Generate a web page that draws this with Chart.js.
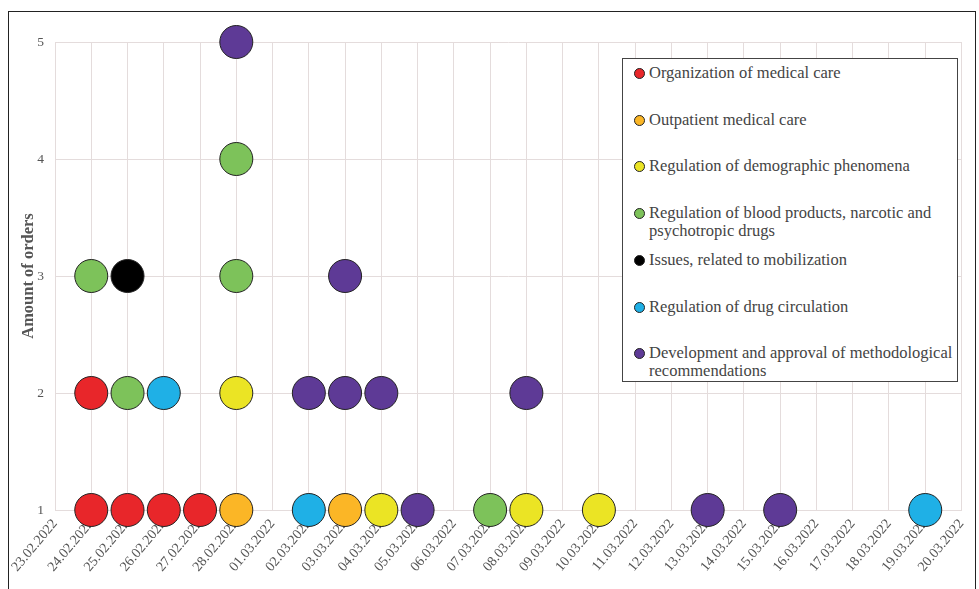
<!DOCTYPE html>
<html>
<head>
<meta charset="utf-8">
<script src="https://cdn.jsdelivr.net/npm/chart.js@4.4.1/dist/chart.umd.min.js"></script>
<style>
html,body{margin:0;padding:0;background:#fff}
#wrap{position:relative;width:979px;height:589px;overflow:hidden;font-family:"Liberation Serif",serif}
#frame{position:absolute;left:8px;top:11px;width:968px;height:640px;box-sizing:border-box;border:1.5px solid #222;border-bottom:none}
#cv{position:absolute;left:0;top:0}
#legend{position:absolute;left:622px;top:58px;width:336px;height:324px;box-sizing:border-box;border:1px solid #444;background:#fff}
.item{position:absolute;left:10px;right:0;font-size:16.5px;line-height:18px;color:#444;padding-left:16px}
.dot{position:absolute;left:1px;top:4px;width:9px;height:9px;border-radius:50%;border:1px solid #222}
</style>
</head>
<body>
<div id="wrap">
  <div id="frame"></div>
  <canvas id="cv" width="979" height="589"></canvas>
  <div id="legend"></div>
</div>
<script>
const dateLabels = ['23.02.2022','24.02.2022','25.02.2022','26.02.2022','27.02.2022','28.02.2022','01.03.2022',
  '02.03.2022','03.03.2022','04.03.2022','05.03.2022','06.03.2022','07.03.2022','08.03.2022','09.03.2022',
  '10.03.2022','11.03.2022','12.03.2022','13.03.2022','14.03.2022','15.03.2022','16.03.2022','17.03.2022',
  '18.03.2022','19.03.2022','20.03.2022']

const seriesNames = ['Organization of medical care','Outpatient medical care','Regulation of demographic phenomena',
  'Regulation of blood products, narcotic and psychotropic drugs','Issues, related to mobilization',
  'Regulation of drug circulation','Development and approval of methodological recommendations']
const seriesColors = ['#e8262a','#fbb626','#ebe424','#7dc25a','#000000','#1fb0e6','#5e3a96']

// dates and stacked order numbers per category
const orgDates = ['24.02.2022','24.02.2022','25.02.2022','26.02.2022','27.02.2022']
const orgY = [1,2,1,1,1]
const outDates = ['28.02.2022','03.03.2022']
const outY = [1,1]
const demoDates = ['28.02.2022','04.03.2022','08.03.2022','10.03.2022']
const demoY = [2,1,1,1]
const bloodDates = ['24.02.2022','25.02.2022','28.02.2022','28.02.2022','07.03.2022']
const bloodY = [3,2,3,4,1]
const mobDates = ['25.02.2022']
const mobY = [3]
const drugDates = ['26.02.2022','02.03.2022','19.03.2022']
const drugY = [2,1,1]
const methDates = ['28.02.2022','02.03.2022','03.03.2022','03.03.2022','04.03.2022','05.03.2022','08.03.2022','13.03.2022','15.03.2022']
const methY = [5,2,2,3,2,1,2,1,1]

const seriesDates = [orgDates,outDates,demoDates,bloodDates,mobDates,drugDates,methDates]
const seriesY = [orgY,outY,demoY,bloodY,mobY,drugY,methY]

const gridColor = '#e4dcdc'
const txtColor = '#555'

const datasets = seriesNames.map((name,i)=>({
  label: name,
  data: seriesDates[i].map((d,k)=>({x:d, y:seriesY[i][k]})),
  backgroundColor: seriesColors[i],
  borderColor: '#222',
  borderWidth: 1,
  pointRadius: 16.5,
  pointHoverRadius: 16.5,
  clip: false
}))

new Chart(document.getElementById('cv'), {
  type: 'scatter',
  data: { labels: dateLabels, datasets },
  options: {
    responsive: false,
    animation: false,
    layout: { padding: { left: 10, right: 13, top: 42, bottom: 0 } },
    plugins: { legend: {display:false}, tooltip: {enabled:false} },
    scales: {
      x: {
        type: 'category',
        labels: dateLabels,
        offset: false,
        grid: { color: gridColor, drawTicks: false },
        border: { color: gridColor },
        ticks: { autoSkip: false, minRotation: 50, maxRotation: 50, padding: 6, color: txtColor,
          font: { family: 'Liberation Serif', size: 14 } },
        afterFit(s){ s.height = 79; s.paddingLeft = 0; s.paddingRight = 0 }
      },
      y: {
        min: 1, max: 5,
        grid: { color: gridColor, drawTicks: false },
        border: { color: gridColor },
        ticks: { stepSize: 1, padding: 11, color: txtColor, font: { family: 'Liberation Serif', size: 13.5 } },
        title: { display: true, text: 'Amount of orders', color: txtColor, padding: { top: 9, bottom: 0 },
          font: { family: 'Liberation Serif', size: 16.5, weight: 'bold' } },
        afterFit(s){ s.width = 45; s.paddingTop = 0; s.paddingBottom = 0 }
      }
    }
  }
})

const legend = document.getElementById('legend')
seriesNames.forEach((name,i)=>{
  const it = document.createElement('div')
  it.className = 'item'
  it.style.top = (5 + i*46.7) + 'px'
  it.innerHTML = '<span class="dot" style="background:'+seriesColors[i]+'"></span>' + name
  legend.appendChild(it)
})
</script>
</body>
</html>
